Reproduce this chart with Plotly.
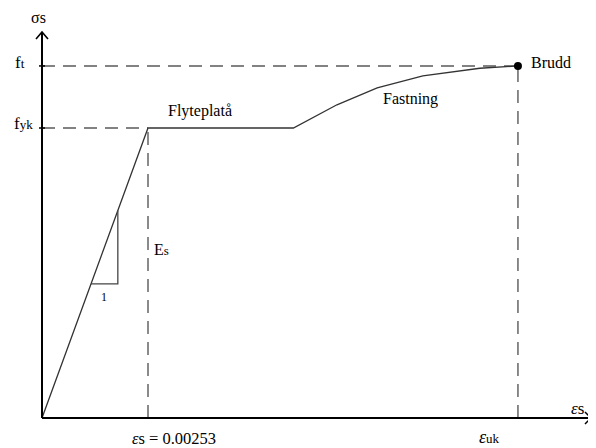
import plotly.graph_objects as go

# ---- data (strain in per mille, stress in MPa; schematic) ----
strain = [0.0, 2.53, 6.0, 7.04, 8.0, 9.09, 10.45, 11.36]
stress = [0.0, 500.0, 500.0, 540.0, 569.0, 590.0, 603.0, 607.0]
eps_yk = 2.53
eps_uk = 11.36
f_yk = 500.0
f_t = 607.0
tri_strain = [1.17, 1.81]          # slope triangle on elastic branch
E_s = f_yk / eps_yk

W, H = 596, 448
PAGE = 8  # page body margin offset of the plot div
# screen-pixel mapping helpers (origin at screen pixel 42, 418)
OX, OY = 42, 418
sx = eps_yk / 106.0
sy = f_yk / 290.0
def dx(px):
    return (px - OX) * sx
def dy(py):
    return (OY - py) * sy

xr = [dx(PAGE), dx(PAGE + W)]
yr = [dy(PAGE + H), dy(PAGE)]

fig = go.Figure()
DASH = dict(color="#5a5a5a", width=1.4, dash="13px,8px")

# dashed guide lines
fig.add_trace(go.Scatter(x=[0, eps_uk], y=[f_t, f_t], mode="lines", line=DASH, hoverinfo="skip"))
fig.add_trace(go.Scatter(x=[0, eps_yk], y=[f_yk, f_yk], mode="lines", line=DASH, hoverinfo="skip"))
fig.add_trace(go.Scatter(x=[eps_yk, eps_yk], y=[0, f_yk], mode="lines", line=DASH, hoverinfo="skip"))
fig.add_trace(go.Scatter(x=[eps_uk, eps_uk], y=[0, f_t], mode="lines", line=DASH, hoverinfo="skip"))

# stress-strain curve
fig.add_trace(go.Scatter(x=strain, y=stress, mode="lines",
                         line=dict(color="#333333", width=1.3), hoverinfo="skip"))
# rupture point
fig.add_trace(go.Scatter(x=[eps_uk], y=[f_t], mode="markers",
                         marker=dict(color="black", size=8), hoverinfo="skip"))

# slope triangle
t0, t1 = tri_strain
fig.add_trace(go.Scatter(x=[t0, t1, t1], y=[E_s * t0, E_s * t0, E_s * t1], mode="lines",
                         line=dict(color="#444444", width=1.3), hoverinfo="skip"))

# axes with open arrows
AX = dict(color="black", width=2)
fig.add_trace(go.Scatter(x=[0, 0], y=[0, dy(32)], mode="lines", line=AX, hoverinfo="skip"))
fig.add_trace(go.Scatter(x=[dx(36), 0, dx(48)], y=[dy(39), dy(32), dy(39)], mode="lines",
                         line=dict(color="black", width=1.6), hoverinfo="skip"))
fig.add_trace(go.Scatter(x=[0, dx(591)], y=[0, 0], mode="lines", line=AX, hoverinfo="skip"))
fig.add_trace(go.Scatter(x=[dx(585), dx(591), dx(585)], y=[dy(412), 0, dy(424)], mode="lines",
                         line=dict(color="black", width=1.5), hoverinfo="skip"))
# small ticks on y-axis
fig.add_trace(go.Scatter(x=[dx(39), dx(45), None, dx(39), dx(45)], y=[f_t, f_t, None, f_yk, f_yk],
                         mode="lines", line=dict(color="black", width=1.5), hoverinfo="skip"))

FONT = "Liberation Serif, Times New Roman, serif"
def ann(text, px, py, size=16, xanchor="center"):
    fig.add_annotation(x=dx(px), y=dy(py), text=text, showarrow=False,
                       xanchor=xanchor, yanchor="middle",
                       font=dict(family=FONT, size=size, color="black"))

def small(s, size=12):
    return "<span style='font-size:%dpx'>%s</span>" % (size, s)

ann("σs", 38, 17, 16)
ann("f" + small("t", 13), 13, 62, 17, "left")
ann("f" + small("yk", 13), 12, 123, 17, "left")
ann("Flyteplatå", 200, 111, 16)
ann("Fastning", 410, 99, 16)
ann("Brudd", 529, 62, 16, "left")
ann("E" + small("s", 13), 152, 249, 16, "left")
ann("1", 104, 297, 12)
ann("<i>ε</i>s = 0.00253", 174, 438, 16.5)
ann("<i>ε</i>" + small("uk", 13), 489, 437, 18)
ann("<i>ε</i>s", 577, 408, 17)

fig.update_layout(
    width=W, height=H,
    margin=dict(l=0, r=0, t=0, b=0),
    paper_bgcolor="white", plot_bgcolor="white",
    showlegend=False,
    xaxis=dict(range=xr, visible=False, fixedrange=True),
    yaxis=dict(range=yr, visible=False, fixedrange=True),
)
fig.write_html("out.html")
